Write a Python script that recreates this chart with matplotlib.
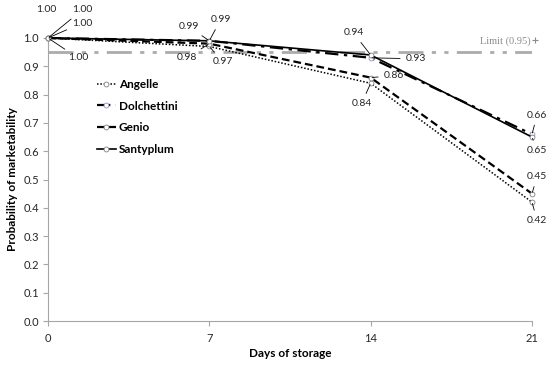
import matplotlib
matplotlib.use('Agg')
import matplotlib.pyplot as plt

# dane
days = [0, 7, 14, 21]
angelle = [1.00, 0.97, 0.84, 0.42]
dolchettini = [1.00, 0.99, 0.93, 0.66]
genio = [1.00, 0.98, 0.86, 0.45]
santyplum = [1.00, 0.99, 0.94, 0.65]
limit = 0.95
yticks = [0.0, 0.1, 0.2, 0.3, 0.4, 0.5, 0.6, 0.7, 0.8, 0.9, 1.0]

plt.rcParams['font.family'] = ['Lato', 'DejaVu Sans']

fig = plt.figure(figsize=(5.5, 3.65), dpi=100)
ax = fig.add_axes([48 / 550, 44 / 365, 484 / 550, 283 / 365])

# granica 0.95
ax.plot([days[0], days[-1]], [limit, limit], color='#ababab', lw=2,
        dashes=[9, 3, 1.5, 3, 1.5, 3], zorder=1)
ax.text(20.95, limit + 0.02, 'Limit (0.95)', family=['Liberation Serif'],
        color='#8c8c8c', fontsize=7.5, ha='right', va='bottom')
ax.plot([21.15], [limit + 0.043], marker='+', color='#8c8c8c', ms=4, mew=0.8,
        clip_on=False)

mk = dict(marker='o', ms=3.5, mfc='white', mew=0.6, clip_on=False, zorder=3)
ax.plot(days, angelle, color='black', lw=1.1, linestyle=(0, (1, 1.2)),
        mec='#808080', label='Angelle', **mk)
ax.plot(days, dolchettini, color='black', lw=1.6, dashes=[6, 2.5, 1.5, 2.5],
        mec='#9b8fc7', label='Dolchettini', **mk)
ax.plot(days, genio, color='black', lw=1.6, dashes=[3.5, 1.8],
        mec='#808080', label='Genio', **mk)
ax.plot(days, santyplum, color='black', lw=1.2, mec='#808080',
        label='Santyplum', **mk)

# etykiety danych (przesuniecie w pikselach)
labels = [
    (0, santyplum[0], -2, 28, 'center', False),
    (0, dolchettini[0], 24, 28, 'left', True),
    (0, genio[0], 24, 15, 'left', True),
    (0, angelle[0], 20, -20, 'left', True),
    (7, dolchettini[1], -10, 14, 'right', True),
    (7, santyplum[1], 1, 21, 'left', True),
    (7, genio[1], -12, -14, 'right', True),
    (7, angelle[1], 3, -15, 'left', True),
    (14, santyplum[2], -7, 22, 'right', True),
    (14, dolchettini[2], 35, -1, 'left', True),
    (14, genio[2], 13, 2, 'left', True),
    (14, angelle[2], -9, -20, 'center', True),
    (21, dolchettini[3], 5, 19, 'center', True),
    (21, santyplum[3], 5, -13, 'center', True),
    (21, genio[3], 5, 17, 'center', True),
    (21, angelle[3], 5, -18, 'center', True),
]
for x, y, dx, dy, ha, lead in labels:
    ap = dict(arrowstyle='-', lw=0.6, color='black', shrinkA=2, shrinkB=1) if lead else None
    ax.annotate(f'{y:.2f}', xy=(x, y), xytext=(dx, dy), textcoords='offset pixels',
                ha=ha, va='center', fontsize=7.5, color='#262626',
                arrowprops=ap, annotation_clip=False)

ax.set_xlim(0, 21)
ax.set_ylim(0, 1.0)
ax.set_xticks(days)
ax.set_yticks(yticks)
ax.set_yticklabels([f'{v:.1f}' for v in yticks])
for s in ['top', 'right']:
    ax.spines[s].set_visible(False)
for s in ['left', 'bottom']:
    ax.spines[s].set_color('#a6a6a6')
    ax.spines[s].set_linewidth(0.8)
ax.tick_params(axis='both', colors='#a6a6a6', labelcolor='#262626',
               labelsize=8, length=3.5, width=0.8, pad=3)
ax.tick_params(axis='x', pad=5)

ax.set_xlabel('Days of storage', fontsize=8.5, fontweight='bold', labelpad=3)
ax.set_ylabel('Probability of marketability', fontsize=8.5, fontweight='bold',
              labelpad=4)

ax.legend(loc='upper left', bbox_to_anchor=(97 / 550, (365 - 79) / 365),
          bbox_transform=fig.transFigure, frameon=False,
          prop={'weight': 'bold', 'size': 8.5}, handlelength=1.6,
          handletextpad=0.25, labelspacing=0.9, borderpad=0, borderaxespad=0)

fig.savefig('out.png', dpi=100)
